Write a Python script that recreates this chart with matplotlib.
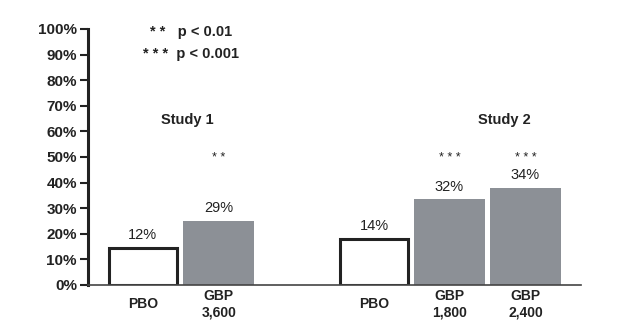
import matplotlib
matplotlib.use('Agg')
import matplotlib.pyplot as plt
from matplotlib.ticker import PercentFormatter

#chart data (bar heights as drawn, printed labels as shown)
positions = [0, 1, 3.04, 4.03, 5.03]
heights = [14.5, 25, 18, 33.5, 38]
value_labels = ['12%', '29%', '14%', '32%', '34%']
categories = ['PBO', 'GBP\n3,600', 'PBO', 'GBP\n1,800', 'GBP\n2,400']
is_placebo = [True, False, True, False, False]
stars = ['', '* *', '', '* * *', '* * *']
studies = ['Study 1', 'Study 2']
study_x = [0.58, 4.75]

FONT = ['Liberation Sans Narrow', 'Liberation Sans', 'DejaVu Sans']
GRAY = '#8c9096'
DARK = '#222222'
plt.rcParams['font.family'] = FONT

fig = plt.figure(figsize=(6.35, 3.33), dpi=100)
ax = fig.add_axes([88/635, 1 - 285/333, (581 - 88)/635, (285 - 29)/333])

for x, h, pbo in zip(positions, heights, is_placebo):
    if pbo:
        ax.bar(x, h, width=0.9, facecolor='white', edgecolor=DARK, linewidth=2.2)
    else:
        ax.bar(x, h, width=0.93, color=GRAY, linewidth=0)

#value labels and significance stars
for x, h, lab, st in zip(positions, heights, value_labels, stars):
    ax.annotate(lab, (x, h), xytext=(0, 4), textcoords='offset points',
                ha='center', va='bottom', fontsize=10.5, color=DARK)
    if st:
        ax.text(x, 49.5, st, ha='center', va='center', fontsize=9, color=DARK)

for s, x in zip(studies, study_x):
    ax.text(x, 64.5, s, ha='center', va='center', fontsize=10.5, fontweight='bold', color=DARK)

ax.text(0.64, 98.8, '* *   p < 0.01', ha='center', va='center', fontsize=10.5, fontweight='bold', color=DARK)
ax.text(0.64, 90.2, '* * *  p < 0.001', ha='center', va='center', fontsize=10.5, fontweight='bold', color=DARK)

#axes styling
ax.set_xlim(-0.72, 5.76)
ax.set_ylim(0, 100)
ax.set_yticks(range(0, 101, 10))
ax.yaxis.set_major_formatter(PercentFormatter(decimals=0))
ax.set_xticks(positions)
ax.set_xticklabels(categories, fontweight='bold', fontsize=10, color=DARK, va='center')
ax.tick_params(axis='x', length=0, pad=14)
ax.tick_params(axis='y', length=6, width=1.5, color=DARK, pad=2, labelsize=11, labelcolor=DARK)
for t in ax.get_yticklabels():
    t.set_fontweight('bold')

for side in ['top', 'right']:
    ax.spines[side].set_visible(False)
ax.spines['left'].set_linewidth(2.2)
ax.spines['left'].set_color(DARK)
ax.spines['bottom'].set_linewidth(1.2)
ax.spines['bottom'].set_color('#444444')

plt.savefig('out.png', dpi=100)
